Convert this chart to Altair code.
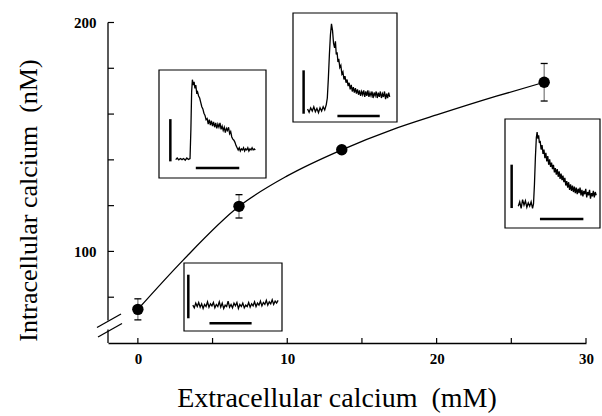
import altair as alt
import pandas as pd

# ---------------- data ----------------
ext_ca = [0, 6.77, 13.65, 27.2]          # mM
int_ca = [74.7, 119.7, 144.4, 173.9]     # nM
int_err = [4.6, 5.1, 1.5, 8.2]           # nM

fit_x = [0, 3, 6.77, 10, 13.65, 17, 20, 24, 27.2]
fit_y = [74.7, 96, 119.7, 133, 144.4, 153.1, 159.6, 167.8, 173.9]

y_ticks = [80, 100, 120, 140, 160, 180, 200]
y_labels = [100, 200]
x_ticks = [0, 5, 10, 15, 20, 25, 30]
x_labels = [0, 10, 20, 30]

# inset traces, in inset-normalised units (0-100 each way)
trace0_t = [9, 10.5, 12, 13.5, 15, 16.5, 18, 19.5, 21, 22.5, 24, 25.5, 27, 28.5, 30, 31.5, 33, 34.5, 36, 37.5,
            39, 40.5, 42, 43.5, 45, 46.5, 48, 49.5, 51, 52.5, 54, 55.5, 57, 58.5, 60, 61.5, 63, 64.5, 66, 67.5,
            69, 70.5, 72, 73.5, 75, 76.5, 78, 79.5, 81, 82.5, 84, 85.5, 87, 88.5, 90, 91.5, 93, 94.5, 96]
trace0_f = [38, 34, 41, 36, 42, 35, 40, 33, 39, 36, 43, 35, 40, 37, 42, 34, 39, 36, 43, 35,
            41, 33, 38, 36, 44, 35, 39, 34, 41, 37, 42, 33, 39, 36, 41, 34, 38, 36, 42, 35,
            40, 37, 43, 36, 41, 38, 44, 37, 42, 39, 45, 38, 43, 40, 46, 39, 44, 41, 45]

trace7_t = [15.6, 17, 18.5, 20, 21.5, 23, 24.5, 26, 27.5, 29, 29.8, 30.5, 31.2, 32, 32.8, 33.6, 34.4, 35.2, 36, 37,
            38, 39, 40, 41, 42, 43, 44, 45, 46, 47, 48, 49, 50, 51, 52, 53, 54, 55, 56, 57,
            58, 59, 60, 61, 62, 63, 64, 65, 66, 67, 68, 69, 70, 71, 72, 73, 74, 75, 76, 77,
            78, 79, 80, 81, 82, 83, 84, 85, 86, 87, 88, 89, 90]
trace7_f = [17, 18.5, 16.8, 18, 17, 18, 16.5, 18.5, 17.2, 18, 45, 80, 91, 86, 89, 83, 86, 79, 80, 76,
            74, 70, 66, 64, 60, 58, 54, 55, 50, 54, 49, 53, 48, 52, 47, 51, 46, 50, 47, 51,
            45, 48, 44, 47, 42, 46, 44, 47, 41, 43, 38, 36, 35, 33, 30, 28, 26, 28, 25, 27,
            26, 28, 25, 27, 26, 28, 25, 27, 26, 28, 26, 27, 26]

trace14_t = [14, 15.5, 17, 18.5, 20, 21.5, 23, 24.5, 26, 27.5, 29, 30.5, 32, 33, 34, 35, 36, 37, 38, 39,
             40, 40.8, 41.6, 42.4, 43.2, 44, 45, 46, 47, 48, 49, 50, 51, 52, 53, 54, 55, 56, 57, 58,
             59, 60, 61, 62, 63, 64, 65, 66, 67, 68, 69, 70, 71, 72, 73, 74, 75, 76, 77, 78,
             79, 80, 81, 82, 83, 84, 85, 86, 87, 88, 89, 90, 91, 92, 93]
trace14_f = [12, 9, 13, 10, 14, 9.5, 12.5, 8.5, 13, 10, 14, 11, 16, 22, 40, 62, 80, 90, 84, 72,
             68, 74, 62, 64, 55, 58, 50, 52, 44, 46, 39, 42, 36, 39, 33, 36, 30, 34, 28, 32,
             27, 31, 26, 30, 25, 29, 24, 28, 25, 29, 23, 28, 24, 29, 23, 27, 24, 28, 22, 27,
             24, 28, 22, 27, 23, 28, 22, 26, 23, 28, 21, 26, 22, 27, 23]

trace27_t = [14, 15.5, 17, 18.5, 20, 21.5, 23, 24.5, 26, 27.5, 29, 30, 31, 32, 33, 33.8, 34.6, 35.4, 36.2, 37,
             38, 39, 40, 41, 42, 43, 44, 45, 46, 47, 48, 49, 50, 51, 52, 53, 54, 55, 56, 57,
             58, 59, 60, 61, 62, 63, 64, 65, 66, 67, 68, 69, 70, 71, 72, 73, 74, 75, 76, 77,
             78, 79, 80, 81, 82, 83, 84, 85, 86, 87, 88, 89, 90, 91, 92, 93, 94, 95, 96]
trace27_f = [20, 24, 18, 26, 21, 25, 19, 23, 20, 24, 18, 22, 40, 65, 83, 88, 82, 85, 78, 80,
             72, 76, 68, 72, 64, 69, 61, 66, 58, 63, 56, 60, 54, 58, 51, 55, 49, 54, 47, 52,
             45, 50, 44, 48, 42, 46, 39, 43, 37, 42, 35, 40, 34, 39, 33, 38, 32, 37, 31, 36,
             32, 37, 30, 35, 29, 34, 31, 36, 28, 33, 30, 35, 27, 32, 29, 34, 28, 33, 30]

# ---------------- layout ----------------
W, H = 478, 320.5
PAD = {"left": 108, "top": 22.5, "right": 16, "bottom": 73}
FONT = "Liberation Serif"
xs = alt.Scale(domain=[-2, 30], nice=False, zero=False)
ys = alt.Scale(domain=[60, 200], nice=False, zero=False)

main = pd.DataFrame({"x": ext_ca, "y": int_ca, "e": int_err})

# invisible layer carrying the axes
axes = alt.Chart(main).mark_point(opacity=0).encode(
    x=alt.X("x:Q", scale=xs, axis=alt.Axis(
        orient="bottom", values=x_labels, ticks=False, tickSize=0, grid=False,
        domain=True, domainColor="black", domainWidth=1.3,
        labelFont=FONT, labelFontWeight="bold", labelFontSize=15, labelColor="black",
        labelPadding=8, labelFlush=False,
        title="Extracellular calcium\u00a0 (mM)", titleFont=FONT, titleFontSize=28,
        titleFontWeight="normal", titleColor="black",
        titleX=228.5, titleY=55, titleAlign="center", titleBaseline="middle")),
    y=alt.Y("y:Q", scale=ys, axis=alt.Axis(
        orient="left", values=y_labels, ticks=False, tickSize=0, grid=False, domain=False,
        labelFont=FONT, labelFontWeight="bold", labelFontSize=15, labelColor="black",
        labelPadding=12, labelFlush=False,
        title="Intracellular calcium\u00a0 (nM)", titleFont=FONT, titleFontSize=26,
        titleFontWeight="normal", titleColor="black", titleAngle=270,
        titleX=-80, titleY=177.5, titleAlign="center", titleBaseline="middle")),
)

yt = alt.Chart(pd.DataFrame({"v": y_ticks})).mark_rule(color="black", strokeWidth=1.2).encode(
    y=alt.Y("v:Q", scale=ys, axis=None), x=alt.value(0), x2=alt.value(6))
xt = alt.Chart(pd.DataFrame({"v": x_ticks})).mark_rule(color="black", strokeWidth=1.2).encode(
    x=alt.X("v:Q", scale=xs, axis=None), y=alt.value(H), y2=alt.value(H - 5))

yaxis_top = alt.Chart(pd.DataFrame({"a": [0]})).mark_rule(color="black", strokeWidth=1.3).encode(
    x=alt.value(0), y=alt.value(0), y2=alt.value(298))
yaxis_bot = alt.Chart(pd.DataFrame({"a": [0]})).mark_rule(color="black", strokeWidth=1.3).encode(
    x=alt.value(0), y=alt.value(307), y2=alt.value(H))
slash1 = alt.Chart(pd.DataFrame({"a": [0]})).mark_rule(color="black", strokeWidth=1.3).encode(
    x=alt.value(-11), x2=alt.value(13), y=alt.value(305), y2=alt.value(291.5))
slash2 = alt.Chart(pd.DataFrame({"a": [0]})).mark_rule(color="black", strokeWidth=1.3).encode(
    x=alt.value(-10), x2=alt.value(14), y=alt.value(314.5), y2=alt.value(301))


def inset(box, t, f, vbar, hbar):
    x0, x1, ytop, ybot = box
    sx = alt.Scale(domain=[0, 100], range=[x0, x1], nice=False, zero=False)
    sy = alt.Scale(domain=[0, 100], range=[ybot, ytop], nice=False, zero=False)
    frame = alt.Chart(pd.DataFrame({"u0": [0], "u1": [100], "v0": [0], "v1": [100]})).mark_rect(
        fill="white", stroke="black", strokeWidth=1.2).encode(
        x=alt.X("u0:Q", scale=sx, axis=None), x2="u1:Q",
        y=alt.Y("v0:Q", scale=sy, axis=None), y2="v1:Q")
    vb = alt.Chart(pd.DataFrame({"u": [vbar[0]], "a": [vbar[1]], "b": [vbar[2]]})).mark_rule(
        color="black", strokeWidth=2.5).encode(
        x=alt.X("u:Q", scale=sx, axis=None), y=alt.Y("a:Q", scale=sy, axis=None), y2="b:Q")
    hb = alt.Chart(pd.DataFrame({"a": [hbar[0]], "b": [hbar[1]], "v": [hbar[2]]})).mark_rule(
        color="black", strokeWidth=2.5).encode(
        x=alt.X("a:Q", scale=sx, axis=None), x2="b:Q", y=alt.Y("v:Q", scale=sy, axis=None))
    tr = alt.Chart(pd.DataFrame({"t": t, "f": f})).mark_line(color="black", strokeWidth=1.3).encode(
        x=alt.X("t:Q", scale=sx, axis=None), y=alt.Y("f:Q", scale=sy, axis=None))
    return [frame, vb, hb, tr]


insets = []
insets += inset((76, 174, 240.5, 308.5), trace0_t, trace0_f, (4.4, 18.7, 82.8), (26, 69, 11.3))
insets += inset((51, 158, 47.5, 155.5), trace7_t, trace7_f, (10.6, 15.4, 54.5), (34.4, 75, 9.2))
insets += inset((185, 289, -9.5, 99.5), trace14_t, trace14_f, (10.2, 7.6, 47.4), (42.7, 83.4, 5.5))
insets += inset((397, 492, 96.5, 205.5), trace27_t, trace27_f, (7, 18.3, 58.1), (36.8, 82.5, 8.3))

curve = alt.Chart(pd.DataFrame({"x": fit_x, "y": fit_y})).mark_line(
    color="black", strokeWidth=1.3, interpolate="monotone").encode(
    x=alt.X("x:Q", scale=xs, axis=None), y=alt.Y("y:Q", scale=ys, axis=None))

base = alt.Chart(main).transform_calculate(lo="datum.y - datum.e", hi="datum.y + datum.e")
whisk = base.mark_rule(color="#777777", strokeWidth=1.2).encode(
    x=alt.X("x:Q", scale=xs, axis=None), y=alt.Y("lo:Q", scale=ys, axis=None), y2="hi:Q")
cap_hi = base.mark_rule(color="black", strokeWidth=1.3, xOffset=-3.5, x2Offset=3.5).encode(
    x=alt.X("x:Q", scale=xs, axis=None), x2="x:Q", y=alt.Y("hi:Q", scale=ys, axis=None))
cap_lo = base.mark_rule(color="black", strokeWidth=1.3, xOffset=-3.5, x2Offset=3.5).encode(
    x=alt.X("x:Q", scale=xs, axis=None), x2="x:Q", y=alt.Y("lo:Q", scale=ys, axis=None))
points = alt.Chart(main).mark_circle(color="black", opacity=1, size=130).encode(
    x=alt.X("x:Q", scale=xs, axis=None), y=alt.Y("y:Q", scale=ys, axis=None))

layers = [axes, yt, xt, yaxis_top, yaxis_bot, slash1, slash2] + insets + [curve, whisk, cap_hi, cap_lo, points]

chart = alt.layer(*layers).resolve_scale(x="independent", y="independent").properties(
    width=W, height=H, padding=PAD, autosize=alt.AutoSizeParams(type="none"), background="white"
).configure_view(stroke=None)

chart.save("out.html", embed_options={"renderer": "svg", "actions": False})
